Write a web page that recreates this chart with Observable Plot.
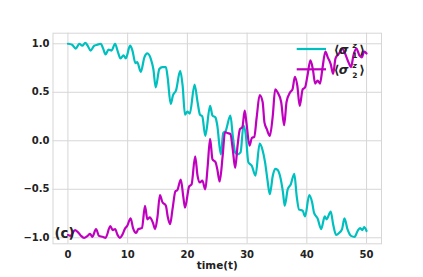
<!DOCTYPE html>
<html><head><meta charset="utf-8">
<script src="https://cdn.jsdelivr.net/npm/d3@7"></script>
<script src="https://cdn.jsdelivr.net/npm/@observablehq/plot@0.6"></script>
<style>body{margin:0;background:#fff;}</style>
</head><body><div id="chart"></div>
<script>
// ---- data ----
const cyanT = [0.0,0.7,1.3,1.9,2.4,2.9,3.3,3.8,4.4,4.9,5.5,5.9,6.3,6.8,7.3,7.9,8.3,8.8,9.3,9.7,10.4,10.8,11.3,11.6,12.2,12.8,13.3,13.9,14.3,14.7,15.3,15.8,16.4,16.7,17.2,17.6,18.1,18.8,19.2,19.6,20.0,20.4,21.2,21.7,22.1,22.5,23.0,23.8,24.2,24.7,25.0,25.6,26.0,26.4,27.2,27.6,28.0,28.4,28.9,29.4,29.8,30.2,30.8,31.4,32.1,32.6,33.0,33.4,33.8,34.3,34.7,35.1,35.5,36.0,36.3,36.8,37.3,37.9,38.3,38.7,39.3,39.7,40.4,40.9,41.2,41.8,42.4,43.0,43.3,44.0,44.4,44.9,45.4,45.9,46.3,46.8,47.4,48.0,48.5,48.9,49.3,49.6,50.0];
const cyanV = [1.00,0.99,0.95,1.00,0.98,1.01,0.98,0.93,0.98,0.99,1.00,0.95,0.89,0.94,0.93,1.00,0.93,0.85,0.88,0.85,0.98,0.93,0.80,0.81,0.71,0.86,0.90,0.84,0.74,0.55,0.74,0.76,0.76,0.65,0.38,0.47,0.52,0.72,0.57,0.27,0.30,0.28,0.58,0.40,0.27,0.25,0.05,0.36,0.26,0.24,0.16,-0.14,0.08,0.10,0.26,0.05,-0.12,-0.14,-0.12,0.16,0.05,-0.22,-0.26,-0.36,-0.03,-0.10,-0.22,-0.40,-0.55,-0.36,-0.29,-0.30,-0.36,-0.53,-0.67,-0.50,-0.45,-0.34,-0.57,-0.71,-0.72,-0.78,-0.56,-0.64,-0.74,-0.80,-0.91,-0.78,-0.81,-0.73,-0.86,-0.97,-0.95,-0.91,-0.80,-0.91,-0.98,-0.99,-0.93,-0.90,-0.92,-0.89,-0.93];
const magT = [0.0,0.4,1.2,1.8,2.2,2.7,3.3,3.7,4.1,4.7,5.2,5.8,6.3,7.1,7.5,7.9,8.3,8.7,9.1,9.6,9.9,10.5,10.9,11.4,11.8,12.4,12.9,13.3,13.7,14.2,14.6,15.0,15.4,15.8,16.4,16.7,17.1,17.5,18.0,18.3,18.9,19.3,19.6,20.3,20.7,21.3,21.7,22.1,22.5,23.0,23.4,23.8,24.2,24.7,25.0,25.4,25.9,26.3,26.7,27.2,27.6,28.0,28.4,28.8,29.2,29.6,29.9,30.4,30.8,31.2,31.6,32.1,32.6,32.9,33.3,33.8,34.3,34.7,35.1,35.7,36.2,36.6,37.2,37.6,38.0,38.4,38.8,39.3,39.7,40.1,40.6,41.0,41.4,41.8,42.2,42.6,43.1,43.5,44.0,44.4,44.8,45.4,45.9,46.4,46.9,47.4,47.8,48.3,48.8,49.2,49.6,50.0];
const magV = [-0.97,-0.98,-0.92,-0.95,-0.98,-1.00,-0.98,-0.96,-0.99,-0.91,-0.98,-0.99,-1.00,-0.88,-0.92,-0.91,-0.97,-1.00,-0.97,-0.90,-0.88,-0.80,-0.90,-0.95,-0.91,-0.90,-0.67,-0.81,-0.79,-0.84,-0.91,-0.78,-0.56,-0.63,-0.67,-0.78,-0.86,-0.71,-0.52,-0.51,-0.40,-0.57,-0.69,-0.47,-0.45,-0.16,-0.36,-0.43,-0.41,-0.50,-0.26,0.02,-0.19,-0.22,-0.29,-0.42,-0.16,0.09,0.08,0.07,-0.09,-0.28,-0.05,0.12,0.14,0.31,0.18,-0.05,0.03,0.04,0.24,0.47,0.40,0.19,0.12,0.05,0.26,0.53,0.50,0.40,0.16,0.40,0.50,0.53,0.66,0.57,0.36,0.53,0.55,0.67,0.83,0.74,0.59,0.62,0.59,0.74,0.92,0.86,0.79,0.69,0.85,0.90,0.95,0.90,0.82,0.76,0.88,0.95,0.88,0.86,0.92,0.90];
const xTicks = [0, 10, 20, 30, 40, 50];
const yTicks = [-1, -0.5, 0, 0.5, 1];
const seriesSub = ["1", "2"];
const seriesColors = ["#00bfbf", "#bf00bf"];
const xLabel = "time(t)";
const panelLabel = "(c)";

// ---- build ----
const W = 423, H = 277, ML = 52.5, MR = 42, MT = 32.7, MB = 33.7;
const cyan = cyanT.map((t, i) => ({t, v: cyanV[i]}));
const mag = magT.map((t, i) => ({t, v: magV[i]}));
const gridColor = "#d6d6d6";
const fmt = d => d.toFixed(1).replace("-", "\u2212");

const svg = Plot.plot({
  width: W, height: H,
  marginLeft: ML, marginRight: MR, marginTop: MT, marginBottom: MB,
  style: {fontFamily: "DejaVu Sans", fontWeight: "bold", fontSize: "10px", color: "#222", background: "#fff"},
  x: {domain: [-2.5, 52.5]},
  y: {domain: [-1.062, 1.109]},
  marks: [
    Plot.gridX(xTicks, {stroke: gridColor, strokeOpacity: 1, strokeWidth: 1}),
    Plot.gridY(yTicks, {stroke: gridColor, strokeOpacity: 1, strokeWidth: 1}),
    Plot.frame({stroke: gridColor, strokeWidth: 1}),
    Plot.axisX(xTicks, {tickSize: 0, tickPadding: 7.5, label: null, tickFormat: d => String(d), fill: "#222"}),
    Plot.axisY(yTicks, {tickSize: 0, tickPadding: 3.5, label: null, tickFormat: fmt, fill: "#222"}),
    Plot.line(cyan, {x: "t", y: "v", stroke: seriesColors[0], strokeWidth: 2.2, curve: "monotone-x"}),
    Plot.line(mag, {x: "t", y: "v", stroke: seriesColors[1], strokeWidth: 2.2, curve: "monotone-x"}),
    Plot.text([xLabel], {frameAnchor: "bottom", dy: 25.4, fontSize: 10.4, fontWeight: "bold", fill: "#222"}),
    Plot.text([panelLabel], {frameAnchor: "bottom-left", textAnchor: "start", dx: 1.5, dy: -6, fontSize: 13.3, fontWeight: "bold", fill: "#222"})
  ]
});
document.getElementById("chart").appendChild(svg);

// legend (layout element, placed relative to the frame)
const g = d3.select(svg).append("g")
  .attr("transform", `translate(${W - MR - 84.3},49)`);
function piece(x, y, size, txt, italic) {
  const el = g.append("text").attr("x", x).attr("y", y)
    .attr("font-family", "DejaVu Sans").attr("font-size", size).attr("font-weight", "bold")
    .attr("fill", "#222").attr("font-style", italic ? "italic" : "normal").text(txt);
  const bb = el.node().getBBox();
  return Math.max(bb.width, el.node().getComputedTextLength());
}
seriesSub.forEach((sub, i) => {
  const yy = i * 20.3;
  g.append("line").attr("x1", 0).attr("x2", 29.3).attr("y1", yy).attr("y2", yy)
    .attr("stroke", seriesColors[i]).attr("stroke-width", 2.2);
  let x = 40;
  const base = yy + 5;
  x += piece(x, base, 12.5, "\u27E8", false) + 1.2;
  x += piece(x, base, 12.5, "\u03C3", true) + 1.2;
  const wz = piece(x, base - 6, 7.5, "z", true);
  const w1 = piece(x, base + 3.8, 7.5, sub, false);
  x += Math.max(wz, w1) + 1.2;
  piece(x, base, 12.5, "\u27E9", false);
});
</script>
</body></html>
